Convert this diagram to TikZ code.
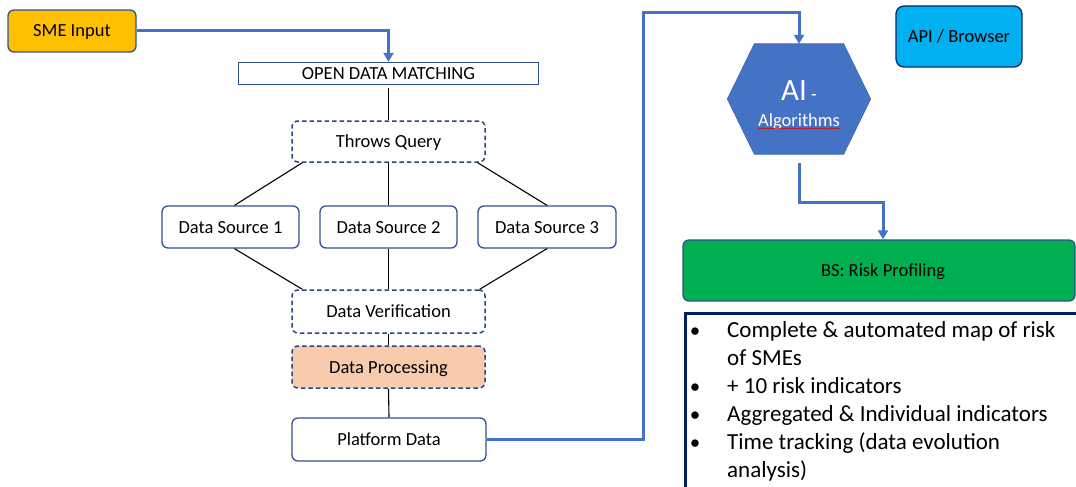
\documentclass[tikz,border=0pt]{standalone}
\usepackage{fontspec}
\setmainfont{Carlito}
\usetikzlibrary{arrows.meta,decorations.pathmorphing}

\definecolor{edgeblue}{HTML}{2F528F}
\definecolor{flowblue}{HTML}{4472C4}
\definecolor{smeyellow}{HTML}{FFC000}
\definecolor{procpeach}{HTML}{F8CBAD}
\definecolor{apicyan}{HTML}{00B0F0}
\definecolor{riskgreen}{HTML}{00B050}
\definecolor{navy}{HTML}{002060}

\begin{document}
\begin{tikzpicture}[x=1pt,y=-1pt,
  txt/.style={font=\fontsize{18.5}{22}\selectfont, text=black},
  box/.style={txt, draw=edgeblue, line width=1.3pt, rounded corners=6pt, inner sep=0pt,
    text height=12pt, text depth=0pt},
  dbox/.style={box, draw=edgeblue!85!black, line width=1.5pt, dash pattern=on 4.5pt off 3pt},
  link/.style={draw=black, line width=1.1pt},
  flow/.style={draw=flowblue, line width=3pt, -{Triangle[length=9pt,width=10pt]}},
  listtxt/.style={font=\fontsize{23}{28}\selectfont, text=black, inner sep=0pt, anchor=base west},
  dot/.style={font=\fontsize{21}{28}\selectfont, text=black, inner sep=0pt, anchor=base}
]
\useasboundingbox (0,0) rectangle (1076,487);
\clip (0,0) rectangle (1076,487);

% ---- left column: data matching pipeline ----
\node[box, fill=smeyellow, minimum width=128pt, minimum height=42pt] (sme) at (72,31) {SME Input};
\node[box, rounded corners=0pt, minimum width=300pt, minimum height=22pt] (odm) at (388.5,73.5) {OPEN DATA MATCHING};
\node[dbox, minimum width=193pt, minimum height=41pt] (tq) at (388.5,141.5) {Throws Query};
\node[box, minimum width=137pt, minimum height=42pt] (ds1) at (230.5,227) {Data Source 1};
\node[box, minimum width=137pt, minimum height=42pt] (ds2) at (388.5,227) {Data Source 2};
\node[box, minimum width=138pt, minimum height=42pt] (ds3) at (547,227) {Data Source 3};
\node[dbox, minimum width=193pt, minimum height=43pt] (dv) at (388.5,311.5) {Data Verification};
\node[dbox, fill=procpeach, minimum width=193pt, minimum height=42pt] (dp) at (388.5,367) {Data Processing};
\node[box, minimum width=194pt, minimum height=43pt] (pd) at (389,439.5) {Platform Data};

% ---- right column ----
\node[minimum width=143pt, minimum height=110pt, inner sep=0pt] (ai) at (799,99) {};
\filldraw[fill=flowblue, draw=flowblue!90!black, line width=0.6pt]
  (ai.west) -- ([xshift=27pt]ai.north west) -- ([xshift=-27pt]ai.north east) -- (ai.east)
  -- ([xshift=-27pt]ai.south east) -- ([xshift=27pt]ai.south west) -- cycle;
\node[anchor=base, text=white, inner sep=0pt] (aititle) at (799,100)
  {\fontsize{31}{31}\selectfont AI\fontsize{18.5}{22}\selectfont\ -};
\node[txt, anchor=base, text=white, inner sep=0pt] (aialg) at (799,126) {Algorithms};
\draw[red!85!black, line width=0.5pt, decorate, decoration={snake, amplitude=0.6pt, segment length=2.4pt}]
  ([yshift=-2.5pt]aialg.base west) -- ([yshift=-2.5pt]aialg.base east);

\node[box, fill=apicyan, draw=navy!80!edgeblue, rounded corners=8pt, minimum width=126pt, minimum height=61pt] (api) at (959,36.5) {API / Browser};
\node[box, fill=riskgreen, minimum width=392pt, minimum height=61pt] (bs) at (879,270.5) {\hspace*{8pt}BS: Risk Profiling};

% feature list panel
\node[draw=navy, line width=3.2pt, inner sep=0pt, minimum width=430pt, minimum height=210pt, anchor=north west] (feat) at (683.5,311.5) {};
\node[dot] (b1) at (695,337) {•};
\node[listtxt] (l1) at (727,337) {Complete \& automated map of risk};
\node[listtxt] (l2) at (727,365) {of SMEs};
\node[dot] (b2) at (695,393) {•};
\node[listtxt] (l3) at (727,393) {+ 10 risk indicators};
\node[dot] (b3) at (695,421) {•};
\node[listtxt] (l4) at (727,421) {Aggregated \& Individual indicators};
\node[dot] (b4) at (695,449) {•};
\node[listtxt] (l5) at (727,449) {Time tracking (data evolution};
\node[listtxt] (l6) at (727,477) {analysis)};

% ---- connectors ----
\draw[flow] (sme.east) -| (odm.north);
\draw[link, shorten <=3pt] (odm.south) -- (tq.north);
\draw[link] ([xshift=11pt]tq.south west) -- ([xshift=4pt]ds1.north);
\draw[link] (tq.south) -- (ds2.north);
\draw[link] ([xshift=-8pt]tq.south east) -- (ds3.north);
\draw[link] ([xshift=4pt]ds1.south) -- ([xshift=11pt]dv.north west);
\draw[link] (ds2.south) -- (dv.north);
\draw[link] (ds3.south) -- ([xshift=-6pt]dv.north east);
\draw[link] (dv.south) -- (dp.north);
\draw[link] (dp.south) -- (pd.north);
\draw[flow] (pd.east) -- ++(157,0) |- ([yshift=31pt]ai.north) -- (ai.north);
\draw[flow] ([yshift=-9pt]ai.south) -- ++(0,39) -| ([xshift=4pt]bs.north);
\end{tikzpicture}
\end{document}
